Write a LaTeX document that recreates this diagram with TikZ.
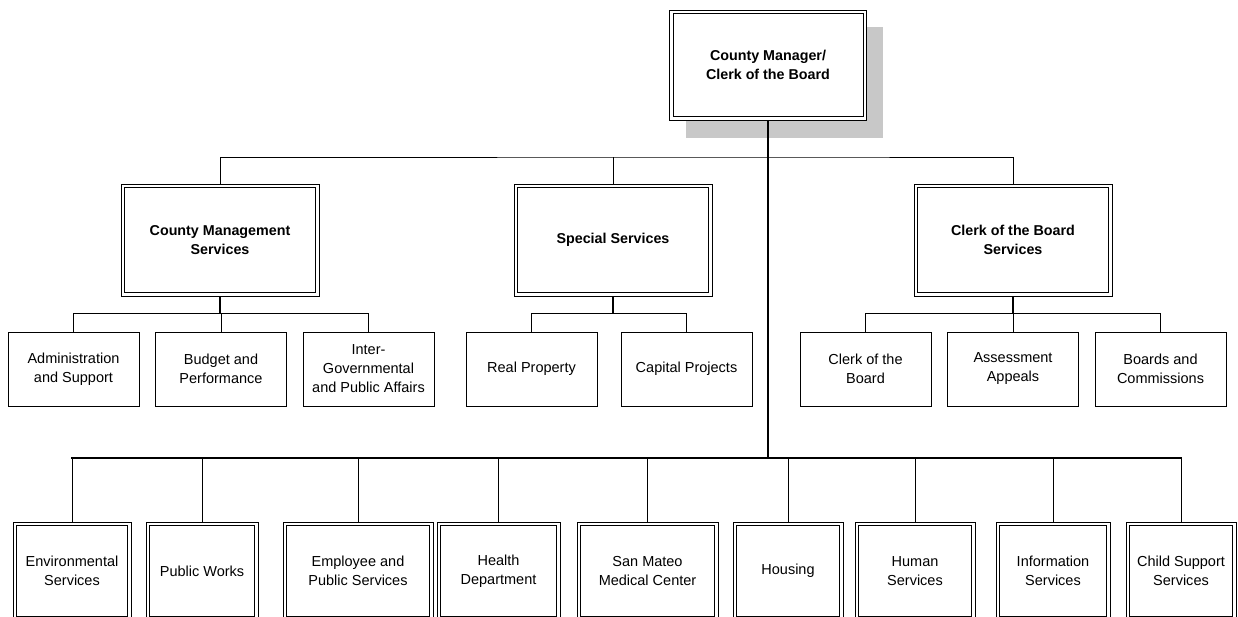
\documentclass[tikz,border=0pt]{standalone}
\usepackage{fontspec}
\setmainfont{Liberation Sans}
\definecolor{shadowgray}{RGB}{200,200,200}
\begin{document}
\begin{tikzpicture}[x=1pt,y=-1pt,
  txt/.style={font=\fontsize{14.5}{19}\selectfont, align=center, text=black},
  dbox/.style={txt, draw, fill=white, line width=1pt, double, double distance=2.5pt,
    outer sep=2.25pt, inner sep=0pt},
  headbox/.style={dbox, font=\bfseries\fontsize{14.3}{19}\selectfont,
    minimum width=194.5pt, minimum height=108.5pt},
  subbox/.style={txt, draw, line width=1pt, inner sep=0pt,
    minimum width=131pt, minimum height=74pt, outer sep=0.5pt},
  deptbox/.style={dbox, minimum height=94.5pt, minimum width=#1},
  thin/.style={line width=1pt},
  bus/.style={line width=1.6pt, line cap=rect},
  spine/.style={line width=2pt},
]
\clip (0,0) rectangle (1238,616);

% shadow behind the top box
\fill[shadowgray] (686,27) rectangle (883,138);

% top box
\node[headbox, minimum width=193.5pt, minimum height=106.5pt] (top) at (768,65)
  {County Manager/\\Clerk of the Board};

% second level
\node[headbox] (cms)  at (220,240) {County Management\\Services};
\node[headbox] (spec) at (613,240) {Special Services};
\node[headbox] (csb)  at (1013,240) {Clerk of the Board\\Services};

% third level
\node[subbox] (adm)  at (73.5,369)  {Administration\\and Support};
\node[subbox] (bud)  at (221,369)   {Budget and\\Performance};
\node[subbox] (igpa) at (368.5,369) {Inter-\\Governmental\\and Public Affairs};
\node[subbox] (real) at (531.5,369) {Real Property};
\node[subbox] (cap)  at (686.5,369) {Capital Projects};
\node[subbox] (clk)  at (865.5,369) {Clerk of the\\Board};
\node[subbox] (asa)  at (1013,369)  {Assessment\\Appeals};
\node[subbox] (bnc)  at (1160.5,369) {Boards and\\Commissions};

% departments
\node[deptbox=114.5pt] (env)  at (72,571)    {Environmental\\Services};
\node[deptbox=108.5pt] (pw)   at (202,571)   {Public Works};
\node[deptbox=146.5pt] (eps)  at (358,571)   {Employee and\\Public Services};
\node[deptbox=119.5pt] (hd)   at (498.5,571) {Health\\Department};
\node[deptbox=137.5pt] (smmc) at (647.5,571) {San Mateo\\Medical Center};
\node[deptbox=106.5pt] (hou)  at (788,571)   {Housing};
\node[deptbox=116.5pt] (hs)   at (915,571)   {Human\\Services};
\node[deptbox=110.5pt] (is)   at (1053,571)  {Information\\Services};
\node[deptbox=106.5pt] (css)  at (1181,571)  {Child Support\\Services};

% bus coordinates
\coordinate (midbus) at (768,157);
\coordinate (botbus) at (768,458);
\coordinate (cmsbus) at (220,313.5);
\coordinate (specbus) at (613,313.5);
\coordinate (csbbus) at (1013,313.5);

% spine from the top box
\draw[spine] (top.south) -- (botbus);

% second-level bus
\draw[thin] (cms.north) |- (midbus) -| (csb.north);
\draw[thin] (spec.north) -- (spec.north |- midbus);

% third-level buses
\draw[spine] (cms.south) -- (cmsbus);
\draw[thin] (adm.north) |- (cmsbus) -| (igpa.north);
\draw[thin] (bud.north) -- (bud.north |- cmsbus);

\draw[spine] (spec.south) -- (specbus);
\draw[thin] (real.north) |- (specbus) -| (cap.north);

\draw[spine] (csb.south) -- (csbbus);
\draw[thin] (clk.north) |- (csbbus) -| (bnc.north);
\draw[thin] (asa.north) -- (asa.north |- csbbus);

% department bus
\draw[bus] (env.north |- botbus) -- (css.north |- botbus);
\foreach \d in {env,pw,eps,hd,smmc,hou,hs,is,css}
  \draw[thin] (\d.north) -- (\d.north |- botbus);
\end{tikzpicture}
\end{document}
